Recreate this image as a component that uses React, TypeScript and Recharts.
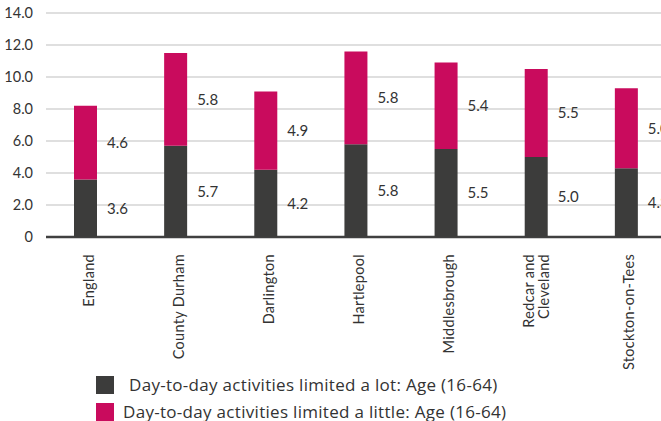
import React from "react";
import { BarChart, Bar, XAxis, YAxis, CartesianGrid, LabelList } from "recharts";

const categories = ["England", "County Durham", "Darlington", "Hartlepool", "Middlesbrough", "Redcar and Cleveland", "Stockton-on-Tees"];
const limitedALot = [3.6, 5.7, 4.2, 5.8, 5.5, 5.0, 4.3];
const limitedALittle = [4.6, 5.8, 4.9, 5.8, 5.4, 5.5, 5.0];
const yTicks = [0, 2, 4, 6, 8, 10, 12, 14];
const seriesNames = ["Day-to-day activities limited a lot: Age (16-64)", "Day-to-day activities limited a little: Age (16-64)"];
const tickLines: Record<string, string[]> = { "Redcar and Cleveland": ["Redcar and", "Cleveland"] };

const DARK = "#3c3c3b";
const MAGENTA = "#c90b5d";
const TEXT = "#333333";
const FONT = "Lato, 'Open Sans', sans-serif";
const LEGEND_FONT = "'Open Sans', Lato, sans-serif";

const data = categories.map((c, i) => ({ name: c, lot: limitedALot[i], little: limitedALittle[i] }));

const GridLine = (props: any) => {
  const { x1, x2, y1, y2, y, height } = props;
  const isBase = Math.abs(y1 - (y + height)) < 1;
  return (
    <line
      x1={x1 + 6}
      x2={x2}
      y1={y1}
      y2={y2}
      stroke={isBase ? "#404040" : "#d4d4d4"}
      strokeWidth={isBase ? 2.5 : 1.5}
    />
  );
};

const CatTick = (props: any) => {
  const { x, y, payload } = props;
  const lines = tickLines[payload.value] || [payload.value];
  const n = lines.length;
  const shift = n === 1 ? 3 : 0;
  return (
    <g>
      {lines.map((ln, i) => {
        const lx = x + shift + (i - (n - 1) / 2) * 15;
        return (
          <text
            key={i}
            x={lx}
            y={y}
            transform={`rotate(-90, ${lx}, ${y})`}
            textAnchor="end"
            dominantBaseline="central"
            fontSize={14.5}
            letterSpacing={0.3}
            fill={TEXT}
            fontFamily={FONT}
          >
            {ln}
          </text>
        );
      })}
    </g>
  );
};

export default function App() {
  return (
    <div style={{ position: "absolute", left: 0, top: 0, width: 661, height: 421, overflow: "hidden", background: "#fff", fontFamily: FONT }}>
      <BarChart
        width={680}
        height={421}
        data={data}
        margin={{ top: 13, right: 9, left: 0, bottom: 0 }}
      >
        <CartesianGrid vertical={false} horizontal={(p: any) => <GridLine {...p} />} syncWithTicks />
        <XAxis
          dataKey="name"
          axisLine={false}
          tickLine={false}
          tickSize={0}
          tickMargin={17}
          height={184}
          interval={0}
          tick={<CatTick />}
        />
        <YAxis
          domain={[0, 14]}
          ticks={yTicks}
          width={40}
          axisLine={false}
          tickLine={false}
          tickSize={0}
          tickMargin={7}
          tick={{ fontSize: 14.5, fill: TEXT, fontFamily: FONT }}
          tickFormatter={(v: number) => (v === 0 ? "0" : v.toFixed(1))}
        />
        <Bar dataKey="lot" stackId="a" fill={DARK} barSize={23} isAnimationActive={false}>
          <LabelList dataKey="lot" position="right" offset={10} fill={TEXT} fontSize={15} fontFamily={FONT} formatter={(v: number) => v.toFixed(1)} />
        </Bar>
        <Bar dataKey="little" stackId="a" fill={MAGENTA} barSize={23} isAnimationActive={false}>
          <LabelList dataKey="little" position="right" offset={10} fill={TEXT} fontSize={15} fontFamily={FONT} formatter={(v: number) => v.toFixed(1)} />
        </Bar>
      </BarChart>
      <div style={{ position: "absolute", left: 96, top: 376, fontSize: 17, letterSpacing: 0.3, color: TEXT, lineHeight: "18px", fontFamily: LEGEND_FONT }}>
        <div style={{ display: "flex", alignItems: "center", height: 18 }}>
          <span style={{ display: "inline-block", width: 18, height: 18, background: DARK, marginRight: 15 }} />
          <span>{seriesNames[0]}</span>
        </div>
        <div style={{ display: "flex", alignItems: "center", height: 18, marginTop: 9 }}>
          <span style={{ display: "inline-block", width: 18, height: 18, background: MAGENTA, marginRight: 9 }} />
          <span>{seriesNames[1]}</span>
        </div>
      </div>
    </div>
  );
}
